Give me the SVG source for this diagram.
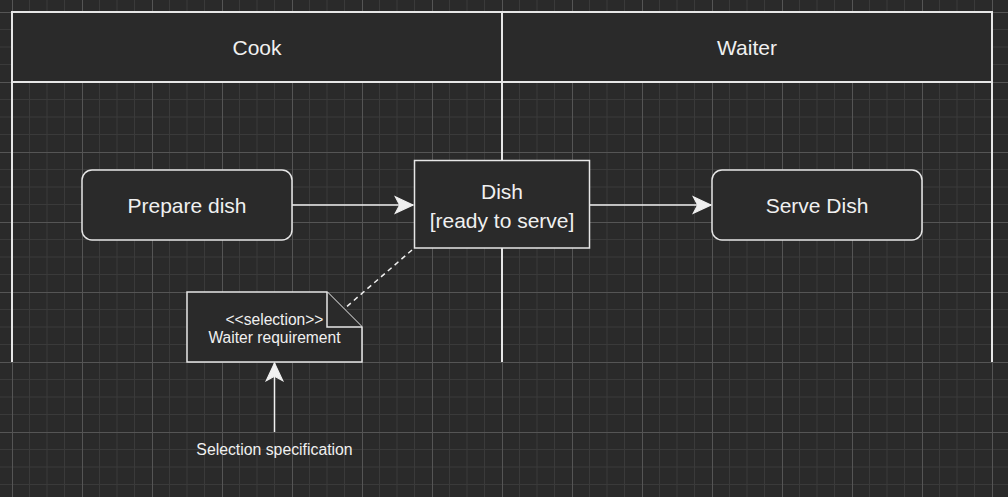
<svg xmlns="http://www.w3.org/2000/svg" width="1008" height="497" viewBox="0 0 1008 497">
  <style>
    .t { font-family: "Liberation Sans", Arial, sans-serif; fill: #f0f0f0; text-anchor: middle; dominant-baseline: central; }
    .big { font-size: 21px; }
    .small { font-size: 15.6px; }
    .lane { fill: none; stroke: #e6e6e6; stroke-width: 2; }
    .hdr { fill: #2a2a2a; stroke: #e6e6e6; stroke-width: 2; }
    .node { fill: #2a2a2a; stroke: #e6e6e6; stroke-width: 1.5; }
    .edge { fill: none; stroke: #f0f0f0; stroke-width: 1.5; }
  </style>
  <defs>
    <pattern id="grid" patternUnits="userSpaceOnUse" x="12" y="12" width="70" height="70">
      <rect width="70" height="70" fill="#2a2a2a"/>
      <path d="M17.5,0V70M35,0V70M52.5,0V70M0,17.5H70M0,35H70M0,52.5H70" stroke="#3a3a3a" stroke-width="1"/>
      <path d="M0.5,0V70M0,0.5H70" stroke="#555555" stroke-width="1"/>
    </pattern>
    <marker id="arrow" markerUnits="userSpaceOnUse" markerWidth="20" markerHeight="20" viewBox="-17 -9 18 18" refX="0" refY="0" orient="auto">
      <path d="M0,0 L-16,-7.5 L-12,0 L-16,7.5 Z" fill="#f0f0f0" stroke="#f0f0f0" stroke-width="1" stroke-linejoin="miter"/>
    </marker>
  </defs>

  <rect id="background" width="1008" height="497" fill="url(#grid)"/>

  <g id="pool">
    <g id="lane-cook">
      <rect class="hdr" x="12" y="12" width="490" height="70"/>
      <text class="t big" x="257" y="47">Cook</text>
      <path class="lane" d="M12,82V362"/>
    </g>
    <g id="lane-waiter">
      <rect class="hdr" x="502" y="12" width="490" height="70"/>
      <text class="t big" x="747" y="47">Waiter</text>
      <path class="lane" d="M502,82V362M992,82V362"/>
    </g>
  </g>

  <g id="connectors">
    <path class="edge" d="M292,205H413" marker-end="url(#arrow)"/>
    <path class="edge" d="M590,205H711" marker-end="url(#arrow)"/>
    <path class="edge" d="M412,250L344,309" stroke-dasharray="5 4"/>
    <path class="edge" d="M274.5,432V363" marker-end="url(#arrow)"/>
  </g>

  <g id="node-prepare-dish">
    <rect class="node" x="82" y="170" width="210" height="70" rx="10" ry="10"/>
    <text class="t big" x="187" y="205">Prepare dish</text>
  </g>

  <g id="node-dish">
    <rect class="node" x="414.5" y="160.5" width="175" height="87.5"/>
    <text class="t big" x="502" y="191">Dish</text>
    <text class="t big" x="502" y="220">[ready to serve]</text>
  </g>

  <g id="node-serve-dish">
    <rect class="node" x="712" y="170" width="210" height="70" rx="10" ry="10"/>
    <text class="t big" x="817" y="205">Serve Dish</text>
  </g>

  <g id="node-note">
    <path class="node" d="M187,292H327L362,327V362H187Z"/>
    <path class="node" d="M327,292V327H362" fill="none"/>
    <text class="t small" x="274.5" y="319">&lt;&lt;selection&gt;&gt;</text>
    <text class="t small" x="274.5" y="337.5">Waiter requirement</text>
  </g>

  <g id="label-selection-spec">
    <text class="t" x="274.5" y="449" font-size="15.8">Selection specification</text>
  </g>
</svg>
